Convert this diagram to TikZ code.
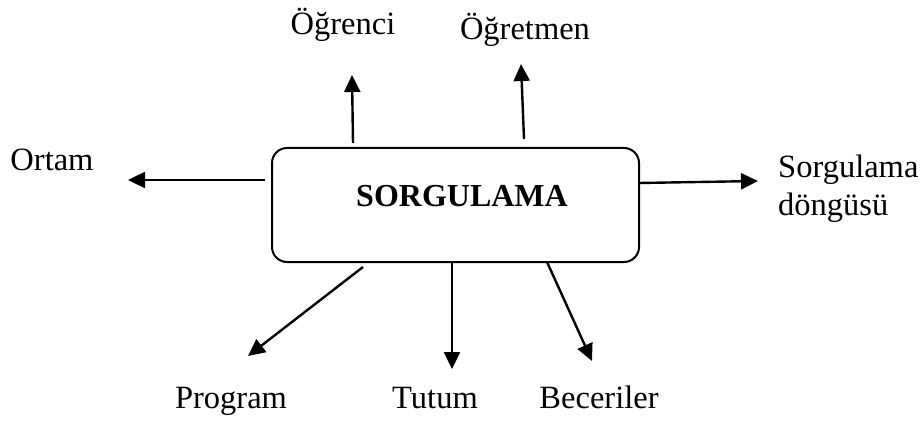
\documentclass[tikz,border=0pt]{standalone}
\usepackage{fontspec}
\setmainfont{Liberation Serif}
\usetikzlibrary{arrows.meta}
\begin{document}
\begin{tikzpicture}[x=1pt,y=-1pt,
  lbl/.style={font=\fontsize{32.5}{37}\selectfont, inner sep=0pt, anchor=base},
  hub/.style={draw, line width=2pt, rounded corners=15pt,
    minimum width=367pt, minimum height=114pt, inner sep=0pt},
  arr/.style={line width=2.4pt, -{Triangle[length=17pt,width=16pt]}}]
\useasboundingbox (0,0) rectangle (921,422);

% central box and its title
\node[hub] (box) at (455.5,205) {};
\node[lbl, font=\fontsize{32}{37}\selectfont\bfseries] (title) at (462,207) {SORGULAMA};

% surrounding labels
\node[lbl] (ogrenci)  at (343,35)  {Öğrenci};
\node[lbl] (ogretmen) at (525,40)  {Öğretmen};
\node[lbl] (ortam)    at (52,171)  {Ortam};
\node[lbl, anchor=base west, align=left] (dongu) at (778,215) {Sorgulama\\döngüsü};
\node[lbl] (program)  at (231,408) {Program};
\node[lbl] (tutum)    at (435,408) {Tutum};
\node[lbl] (beceri)   at (599,408) {Beceriler};

% arrow start points near the box and tip points near the labels
\coordinate (s1) at (353,143); \coordinate (t1) at (352,75);
\coordinate (s2) at (524,139); \coordinate (t2) at (521,64);
\coordinate (s3) at (265,180); \coordinate (t3) at (128,180);
\coordinate (s4) at (639,183); \coordinate (t4) at (758,181);
\coordinate (s5) at (363,267); \coordinate (t5) at (248,356);
\coordinate (s6) at (452,262); \coordinate (t6) at (452,369);
\coordinate (s7) at (547,262); \coordinate (t7) at (592,361);

\draw[arr] (s1) -- (t1);
\draw[arr] (s2) -- (t2);
\draw[arr] (s3) -- (t3);
\draw[arr] (s4) -- (t4);
\draw[arr] (s5) -- (t5);
\draw[arr] (s6) -- (t6);
\draw[arr] (s7) -- (t7);
\end{tikzpicture}
\end{document}
